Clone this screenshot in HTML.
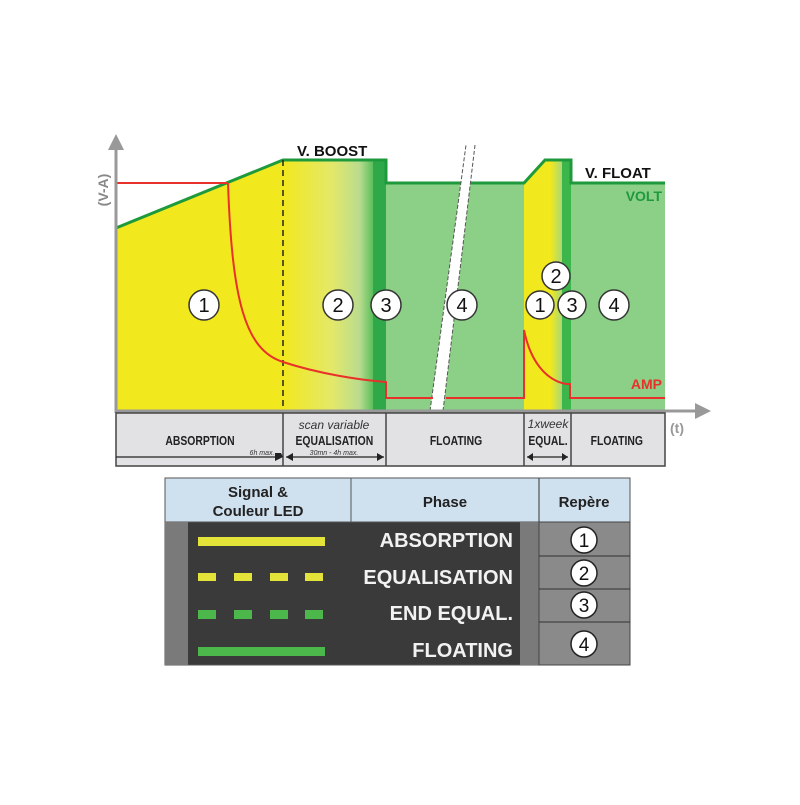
<!DOCTYPE html>
<html><head><style>
body{margin:0;background:#fff;}
svg text{font-family:"Liberation Sans",sans-serif;}
</style></head><body>
<svg width="800" height="800" viewBox="0 0 800 800" xmlns="http://www.w3.org/2000/svg">
<defs>
<linearGradient id="eq" x1="0" x2="1" y1="0" y2="0">
<stop offset="0" stop-color="#f2e81e"/><stop offset="0.55" stop-color="#e3e86a"/><stop offset="0.85" stop-color="#b9dc8e"/><stop offset="1" stop-color="#5cbf5c"/>
</linearGradient>
<linearGradient id="eq2" x1="0" x2="1"><stop offset="0" stop-color="#f2e81e"/><stop offset="0.7" stop-color="#f2e81e"/><stop offset="1" stop-color="#a8d878"/></linearGradient>
</defs>
<polygon points="116,228 283,160 283,411 116,411" fill="#f2e81e"/>
<rect x="283" y="160" width="90" height="251" fill="url(#eq)"/>
<rect x="373" y="160" width="13" height="251" fill="#2fa84a"/>
<rect x="386" y="183" width="138" height="228" fill="#8ccf86"/>
<polygon points="524,183 545,160 562,160 562,411 524,411" fill="url(#eq2)"/>
<rect x="562" y="160" width="9" height="251" fill="#3cb54a"/>
<rect x="571" y="183" width="94" height="228" fill="#8ccf86"/>
<polyline points="116,228 283,160 386,160 386,183 462,183" fill="none" stroke="#1e9a3c" stroke-width="3"/>
<polyline points="471,183 524,183 545,160 571,160 571,183 665,183" fill="none" stroke="#1e9a3c" stroke-width="3"/>
<polygon points="430,411 443,411 475,145 466,145" fill="#fff"/>
<line x1="430" y1="411" x2="466" y2="145" stroke="#555" stroke-width="1" stroke-dasharray="4,2"/>
<line x1="443" y1="411" x2="475" y2="145" stroke="#555" stroke-width="1" stroke-dasharray="4,2"/>
<line x1="283" y1="160" x2="283" y2="465" stroke="#222" stroke-width="1.5" stroke-dasharray="6,4"/>
<polyline points="116,183 228,183" fill="none" stroke="#e8312a" stroke-width="2"/>
<path d="M228,183 C232,300 245,350 283,362 C320,374 360,380 386,382 L386,398 L433,398 M446,398 L524,398 L524,330 C530,360 545,380 566,384 L570,384 L570,398 L665,398" fill="none" stroke="#e8312a" stroke-width="2"/>
<line x1="116" y1="145" x2="116" y2="413" stroke="#999" stroke-width="3"/>
<polygon points="108,150 116,134 124,150" fill="#999"/>
<line x1="116" y1="411" x2="700" y2="411" stroke="#999" stroke-width="3"/>
<polygon points="695,403 711,411 695,419" fill="#999"/>
<text x="108" y="190" font-size="14" font-weight="bold" fill="#888" transform="rotate(-90 108 190)" text-anchor="middle">(V-A)</text>
<text x="670" y="433" font-size="14" font-weight="bold" fill="#999">(t)</text>
<text x="297" y="156" font-size="15" font-weight="bold" fill="#111">V. BOOST</text>
<text x="585" y="178" font-size="15" font-weight="bold" fill="#111">V. FLOAT</text>
<text x="662" y="201" font-size="14" font-weight="bold" fill="#1e9a3c" text-anchor="end">VOLT</text>
<text x="662" y="389" font-size="14" font-weight="bold" fill="#e8312a" text-anchor="end">AMP</text>
<g font-size="20" text-anchor="middle" fill="#111">
<g fill="#fff" stroke="#333" stroke-width="1.5">
<circle cx="204" cy="305" r="15"/><circle cx="338" cy="305" r="15"/><circle cx="386" cy="305" r="15"/><circle cx="462" cy="305" r="15"/>
<circle cx="540" cy="305" r="14"/><circle cx="556" cy="276" r="14"/><circle cx="572" cy="305" r="14"/><circle cx="614" cy="305" r="15"/>
</g>
<text x="204" y="312">1</text><text x="338" y="312">2</text><text x="386" y="312">3</text><text x="462" y="312">4</text>
<text x="540" y="312">1</text><text x="556" y="283">2</text><text x="572" y="312">3</text><text x="614" y="312">4</text>
</g>
<rect x="116" y="413" width="549" height="53" fill="#e2e2e4" stroke="#444" stroke-width="1.5"/>
<g stroke="#444" stroke-width="1.5"><line x1="283" y1="413" x2="283" y2="466"/><line x1="386" y1="413" x2="386" y2="466"/><line x1="524" y1="413" x2="524" y2="466"/><line x1="571" y1="413" x2="571" y2="466"/></g>
<g font-size="13" font-weight="bold" fill="#222" text-anchor="middle" transform="scale(0.8 1)">
<text x="250" y="445">ABSORPTION</text>
<text x="418" y="445">EQUALISATION</text>
<text x="570" y="445">FLOATING</text>
<text x="685" y="445">EQUAL.</text>
<text x="771" y="445">FLOATING</text>
</g>
<g font-size="12" font-style="italic" fill="#333" text-anchor="middle">
<text x="334" y="429">scan variable</text>
<text x="548" y="428">1xweek</text>
</g>
<g font-size="7" font-style="italic" fill="#333" text-anchor="middle"><text x="262" y="455">6h max.</text><text x="334" y="455">30mn - 4h max.</text></g>
<g stroke="#222" stroke-width="1.2"><line x1="116" y1="457" x2="281" y2="457"/><line x1="286" y1="457" x2="384" y2="457"/><line x1="527" y1="457" x2="568" y2="457"/></g>
<g fill="#222"><polygon points="281,453 283,457 275,461 275,453"/><polygon points="286,457 293,453 293,461"/><polygon points="384,457 377,453 377,461"/><polygon points="527,457 533,453 533,461"/><polygon points="568,457 562,453 562,461"/></g>
<rect x="165" y="478" width="465" height="187" fill="#3a3a3a" stroke="#555"/>
<rect x="165" y="478" width="465" height="44" fill="#cfe0ef" stroke="#555"/>
<line x1="351" y1="478" x2="351" y2="522" stroke="#555"/>
<line x1="539" y1="478" x2="539" y2="665" stroke="#333"/>
<rect x="165" y="522" width="23" height="143" fill="#7a7a7a"/>
<rect x="520" y="522" width="19" height="143" fill="#7a7a7a"/>
<rect x="539" y="522" width="91" height="143" fill="#8a8a8a" stroke="#444"/>
<g stroke="#333"><line x1="539" y1="556" x2="630" y2="556"/><line x1="539" y1="589" x2="630" y2="589"/><line x1="539" y1="622" x2="630" y2="622"/></g>
<g font-size="15" font-weight="bold" fill="#222" text-anchor="middle">
<text x="258" y="497">Signal &amp;</text><text x="258" y="516">Couleur LED</text>
<text x="445" y="507">Phase</text><text x="584" y="507">Repère</text>
</g>
<rect x="198" y="537" width="127" height="9" fill="#e3e33a"/>
<g fill="#e3e33a"><rect x="198" y="573" width="18" height="8"/><rect x="234" y="573" width="18" height="8"/><rect x="270" y="573" width="18" height="8"/><rect x="305" y="573" width="18" height="8"/></g>
<g fill="#4cb84c"><rect x="198" y="610" width="18" height="9"/><rect x="234" y="610" width="18" height="9"/><rect x="270" y="610" width="18" height="9"/><rect x="305" y="610" width="18" height="9"/></g>
<rect x="198" y="647" width="127" height="9" fill="#4cb84c"/>
<g font-size="20" font-weight="bold" fill="#f2f2f2" text-anchor="end">
<text x="513" y="547">ABSORPTION</text><text x="513" y="584">EQUALISATION</text><text x="513" y="620">END EQUAL.</text><text x="513" y="657">FLOATING</text>
</g>
<g fill="#fff" stroke="#222" stroke-width="1.5"><circle cx="584" cy="540" r="13"/><circle cx="584" cy="573" r="13"/><circle cx="584" cy="605" r="13"/><circle cx="584" cy="644" r="13"/></g>
<g font-size="19" fill="#111" text-anchor="middle"><text x="584" y="547">1</text><text x="584" y="580">2</text><text x="584" y="612">3</text><text x="584" y="651">4</text></g>
</svg>
</body></html>
